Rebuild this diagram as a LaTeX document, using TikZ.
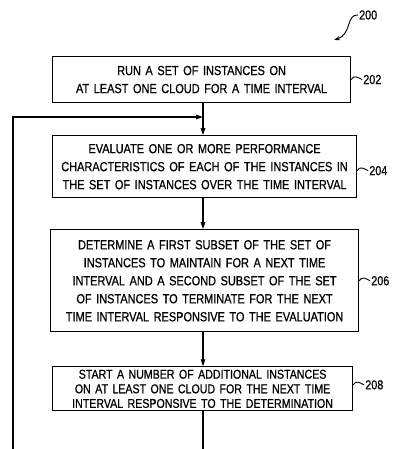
\documentclass[tikz,border=0pt]{standalone}
\usepackage{fontspec}
\setsansfont[FakeStretch=0.83,WordSpace=1.5,FakeBold=0.7]{Liberation Sans}
\usetikzlibrary{arrows.meta,positioning}

\begin{document}
\begin{tikzpicture}[
  x=1pt, y=-1pt,
  blk/.style={draw, line width=1.1pt, inner sep=1pt, align=center,
              font=\sffamily\fontsize{13.2}{18}\selectfont},
  tag/.style={font=\sffamily\fontsize{13}{14}\selectfont, inner sep=1pt, anchor=west},
  lead/.style={line width=0.9pt},
  ar/.style={-{Triangle[length=7pt,width=4.5pt]}, line width=1.1pt},
  node distance=32pt
]
  \useasboundingbox (0,0) rectangle (394,449);

  \node[blk, anchor=north west, minimum width=298pt, minimum height=46pt] (b202) at (52,56)
    {RUN A SET OF INSTANCES ON\\AT LEAST ONE CLOUD FOR A TIME INTERVAL};
  \node[blk, below=32pt of b202.south west, anchor=north west,
        minimum width=304pt, minimum height=62pt] (b204)
    {EVALUATE ONE OR MORE PERFORMANCE\\
     CHARACTERISTICS OF EACH OF THE INSTANCES IN\\
     THE SET OF INSTANCES OVER THE TIME INTERVAL};
  \node[blk, below=31pt of b204.south west, anchor=north west, xshift=-2pt,
        minimum width=308pt, minimum height=102pt] (b206)
    {DETERMINE A FIRST SUBSET OF THE SET OF\\
     INSTANCES TO MAINTAIN FOR A NEXT TIME\\
     INTERVAL AND A SECOND SUBSET OF THE SET\\
     OF INSTANCES TO TERMINATE FOR THE NEXT\\
     TIME INTERVAL RESPONSIVE TO THE EVALUATION};
  \node[blk, below=34pt of b206.south west, anchor=north west, xshift=2pt,
        minimum width=300pt, minimum height=44pt, inner sep=2.5pt,
        font=\sffamily\fontsize{12.8}{14.6}\selectfont] (b208)
    {START A NUMBER OF ADDITIONAL INSTANCES\\
     ON AT LEAST ONE CLOUD FOR THE NEXT TIME\\
     INTERVAL RESPONSIVE TO THE DETERMINATION};

  % reference numerals
  \node[tag] (l200) at (358,15) {200};
  \node[tag, right=11pt of b202.east] (l202) {202};
  \node[tag, right=11pt of b204.east, yshift=-4pt] (l204) {204};
  \node[tag, right=11pt of b206.east] (l206) {206};
  \node[tag, right=11pt of b208.east, yshift=4pt] (l208) {208};

  \draw[lead, -{Stealth[length=6pt,width=4pt]}] (l200.west) .. controls (346,14) and (352,34) .. (334,40);
  \foreach \n in {202,204,206,208}
    \draw[lead] (b\n.east |- l\n.west) .. controls +(3,-5) and +(-4,-2) .. (l\n.west);

  % flow
  \coordinate (spine) at (203,0);
  \coordinate (merge) at (203,117);
  \coordinate (tail) at (203,449);
  \coordinate (ret) at (13,449);

  \draw[ar] (b202.south -| spine) -- (b204.north -| spine);
  \draw[ar] (b204.south -| spine) -- (b206.north -| spine);
  \draw[ar] (b206.south -| spine) -- (b208.north -| spine);
  \draw[line width=1.1pt] (b208.south -| spine) -- (tail);
  \draw[ar] (ret) |- (merge);
\end{tikzpicture}
\end{document}
